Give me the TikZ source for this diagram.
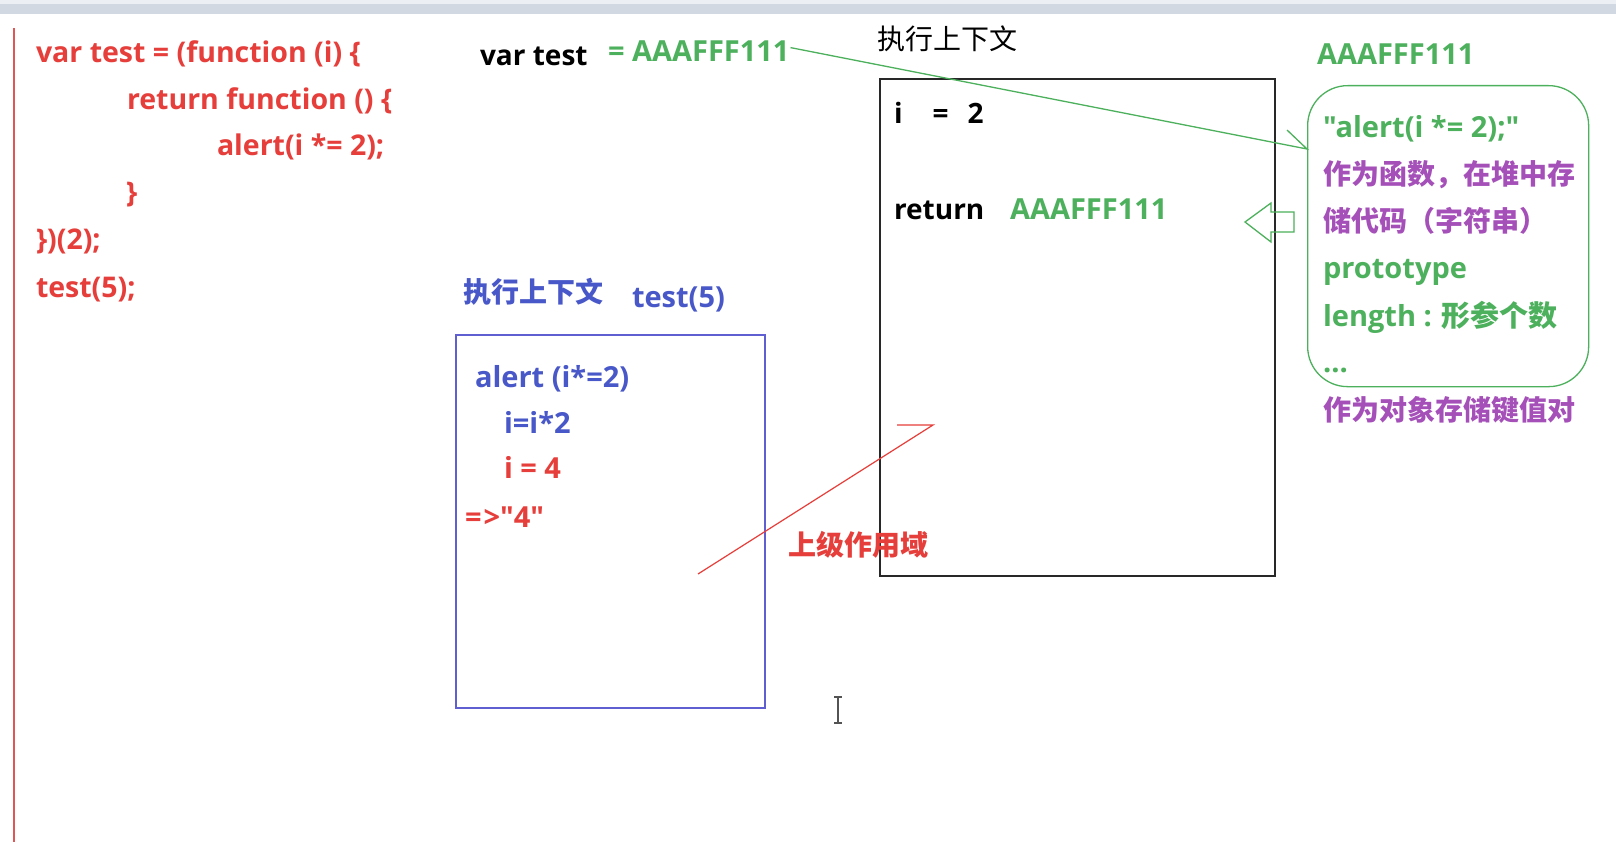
\documentclass[tikz,border=0pt]{standalone}
\usepackage{fontspec}
\setmainfont{Open Sans}[Ligatures=TeXOff]
\newfontfamily\cjk{Noto Sans CJK SC}
\usetikzlibrary{calc}
\definecolor{codered}{RGB}{230,62,58}
\definecolor{grn}{RGB}{76,176,92}
\definecolor{purp}{RGB}{165,80,185}
\definecolor{blu}{RGB}{72,88,200}
\definecolor{blubox}{RGB}{95,95,210}
\definecolor{boxblack}{RGB}{40,40,40}
\definecolor{band}{RGB}{210,216,226}
\definecolor{bandtop}{RGB}{236,239,243}
\definecolor{redv}{RGB}{225,85,85}
\tikzset{
  txt/.style={anchor=base west, inner sep=0pt, outer sep=0pt},
  lat/.style={txt, font=\bfseries\fontsize{29}{29}\selectfont},
  latb/.style={txt, font=\bfseries\fontsize{28}{28}\selectfont},
  han/.style={txt, font=\cjk\bfseries\fontsize{28}{28}\selectfont},
  hanreg/.style={txt, font=\cjk\fontsize{28}{28}\selectfont},
  code/.style={txt, font=\bfseries\fontsize{28.5}{28.5}\selectfont, text=codered},
  grnline/.style={draw=grn, line width=1.3pt},
  redline/.style={draw=codered, line width=1.2pt},
}
\begin{document}
\begin{tikzpicture}[x=1pt,y=-1pt]
\useasboundingbox (0,0) rectangle (1616,842);
\fill[white] (0,0) rectangle (1616,842);
% top band
\fill[bandtop] (0,0) rectangle (1616,4);
\fill[band] (0,4) rectangle (1616,14);
% left red margin line
\draw[redv, line width=1.6pt] (14,28) -- (14,842);

% code
\node[code] (c1) at (36,63) {var test = (function (i) \{};
\node[code] (c2) at (127,110) {return function () \{};
\node[code] (c3) at (217,156) {alert(i *= 2);};
\node[code] (c4) at (126,203) {\}};
\node[code] (c5) at (36,250) {\})(2);};
\node[code] (c6) at (36,297) {test(5);};

% var test = AAAFFF111
\node[latb] (vt) at (480,66) {var test};
\node[lat, text=grn] (addr) at (608,62) {= AAAFFF111};
\node[hanreg] (ctx1) at (877,50) {执行上下文};

% black execution context box
\node[draw=boxblack, line width=1.8pt, anchor=north west, inner sep=0pt,
      minimum width=395pt, minimum height=497pt] (box1) at (879,78) {};
\node[latb] (ieq) at (894,124) {i\hspace{30pt}=\hspace{19pt}2};
\node[latb] (ret) at (894,220) {return};
\node[lat, text=grn] (retv) at (1010,220) {AAAFFF111};

% hollow green arrow
\draw[grn, line width=1.3pt] (1294,212) -- (1271,212) -- (1271,203) -- (1245,222)
      -- (1271,242) -- (1271,232) -- (1294,232) -- cycle;

% heap object
\node[lat, text=grn] (hname) at (1317,65) {AAAFFF111};
\node[draw=grn, line width=1.3pt, rounded corners=40pt, anchor=north west, inner sep=0pt,
      minimum width=281pt, minimum height=301pt] (heap) at (1307,85) {};
\node[lat, text=grn] (h1) at (1323,138) {"alert(i *= 2);"};
\node[han, text=purp] (h2) at (1323,185) {作为函数，在堆中存};
\node[han, text=purp] (h3) at (1323,232) {储代码（字符串）};
\node[lat, text=grn] (h4) at (1323,279) {prototype};
\node[lat, text=grn] (h5) at (1323,326) {length : {\cjk 形参个数}};
\node[lat, text=grn] (h6) at (1323,372) {...};
\node[han, text=purp] (h7) at (1323,420) {作为对象存储键值对};

% green pointer
\draw[grnline] ($(addr.east)+(1,-4)$) -- ($(heap.north west)+(0,64)$) -- ++(-20,-19);

% blue execution context
\node[han, text=blu] (ctx2) at (463,302) {执行上下文};
\node[lat, text=blu] (t5) at (632,307) {test(5)};
\node[draw=blubox, line width=1.5pt, anchor=north west, inner sep=0pt,
      minimum width=309pt, minimum height=373pt] (box2) at (455,334) {};
\node[lat, text=blu] (b1) at (475,387) {alert (i*=2)};
\node[lat, text=blu] (b2) at (504,433) {i=i*2};
\node[lat, text=codered] (b3) at (504,478) {i = 4};
\node[lat, text=codered] (b4) at (465,527) {=\kern2pt>"4"};

% scope arrow
\coordinate (rs) at (698,574);
\coordinate (rt) at (933,425);
\draw[redline] (rs) -- (rt) -- ++(-36,0);
\node[han, text=codered] (scope) at (788,555) {上级作用域};

% text cursor
\draw[boxblack!80, line width=1.5pt] (838,697) -- (838,723);
\draw[boxblack!80, line width=1.3pt] (834,697) -- (842,697) (834,723) -- (842,723);
\end{tikzpicture}
\end{document}
